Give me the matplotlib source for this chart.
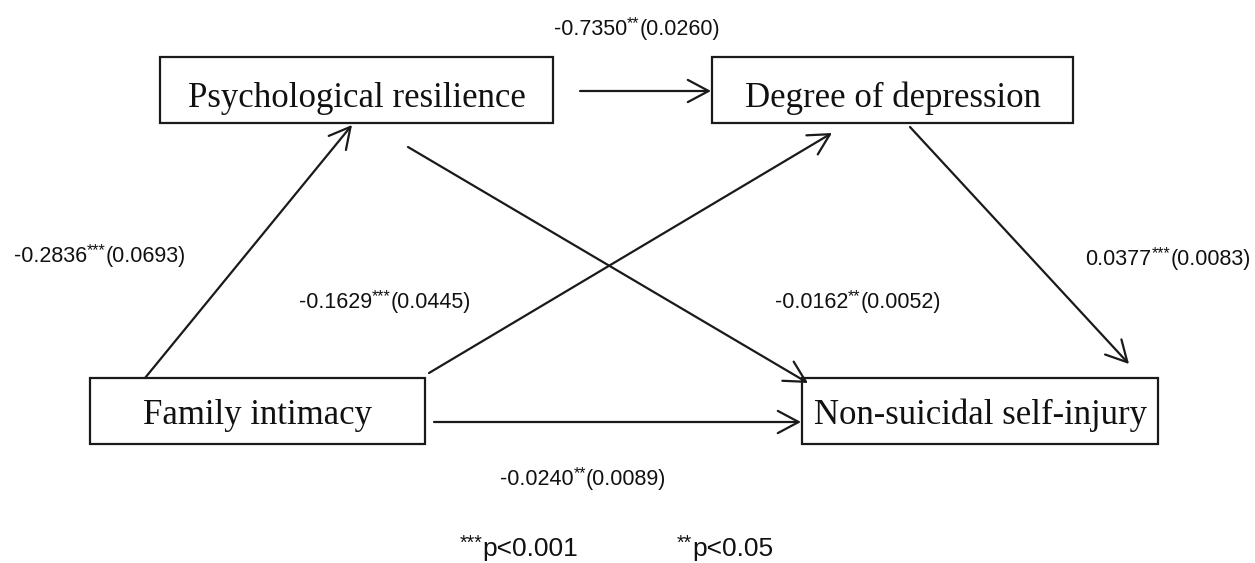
import matplotlib
matplotlib.use("Agg")
import matplotlib.pyplot as plt
from matplotlib.patches import Rectangle, FancyArrowPatch

# variables and path coefficients
node_names = ["Psychological resilience", "Degree of depression", "Family intimacy", "Non-suicidal self-injury"]
path_coef = ["-0.7350", "-0.2836", "-0.1629", "-0.0162", "0.0377", "-0.0240"]
path_stars = ["**", "***", "***", "**", "***", "**"]
path_se = ["0.0260", "0.0693", "0.0445", "0.0052", "0.0083", "0.0089"]
note_stars = ["***", "**"]
note_text = ["p<0.001", "p<0.05"]

# layout in pixel coordinates (y down)
boxes = [(160, 57, 393, 66), (712, 57, 361, 66), (90, 378, 335, 66), (802, 378, 356, 66)]
name_baseline = [107, 107, 424, 424]
arrows = [((580, 91), (711, 91)), ((145, 378), (352, 125)), ((429, 373), (832, 133)),
          ((408, 147), (808, 383)), ((910, 127), (1129, 364)), ((434, 422), (801, 422))]
label_pos = [(637, 29), (100, 256), (385, 302), (858, 302), (1168, 259), (583, 479)]
note_pos = [(519, 549), (725, 549)]

fig = plt.figure(figsize=(12.55, 5.63), dpi=100)
ax = fig.add_axes([0, 0, 1, 1])
ax.set_xlim(0, 1255)
ax.set_ylim(563, 0)
ax.axis("off")

serif = ["Liberation Serif", "DejaVu Serif"]
sans = ["Liberation Sans", "DejaVu Sans"]
ink = "#1a1a1a"
renderer = fig.canvas.get_renderer()


def rich_label(cx, cy, parts, size):
    # parts: list of (text, size scale, raise in px); centred on cx, cy
    texts = []
    for s, k, dy in parts:
        t = ax.text(0, 0, s, ha="left", va="baseline", fontsize=size * k, family=sans, color="#111111")
        texts.append((t, dy))
    widths = [t.get_window_extent(renderer).width for t, _ in texts]
    x = cx - sum(widths) / 2
    base = cy + size * 0.36
    for (t, dy), w in zip(texts, widths):
        t.set_position((x, base - dy))
        x += w


for name, (x, y, w, h), yb in zip(node_names, boxes, name_baseline):
    ax.add_patch(Rectangle((x, y), w, h, fill=False, edgecolor=ink, lw=1.6))
    ax.text(x + w / 2, yb, name, ha="center", va="baseline", fontsize=25, family=serif, color="#111111")

for (p0, p1) in arrows:
    ax.add_patch(FancyArrowPatch(p0, p1, arrowstyle="->,head_length=0.75,head_width=0.4",
                                 mutation_scale=20, lw=1.6, color=ink, shrinkA=0, shrinkB=0))

for (x, y), c, s, se in zip(label_pos, path_coef, path_stars, path_se):
    rich_label(x, y, [(c, 1, 0), (s, 0.75, 6), (f"({se})", 1, 0)], 15.5)

for (x, y), s, t in zip(note_pos, note_stars, note_text):
    rich_label(x, y, [(s, 0.75, 7), (t, 1, 0)], 19)

fig.savefig("out.png", dpi=100, facecolor="white")
